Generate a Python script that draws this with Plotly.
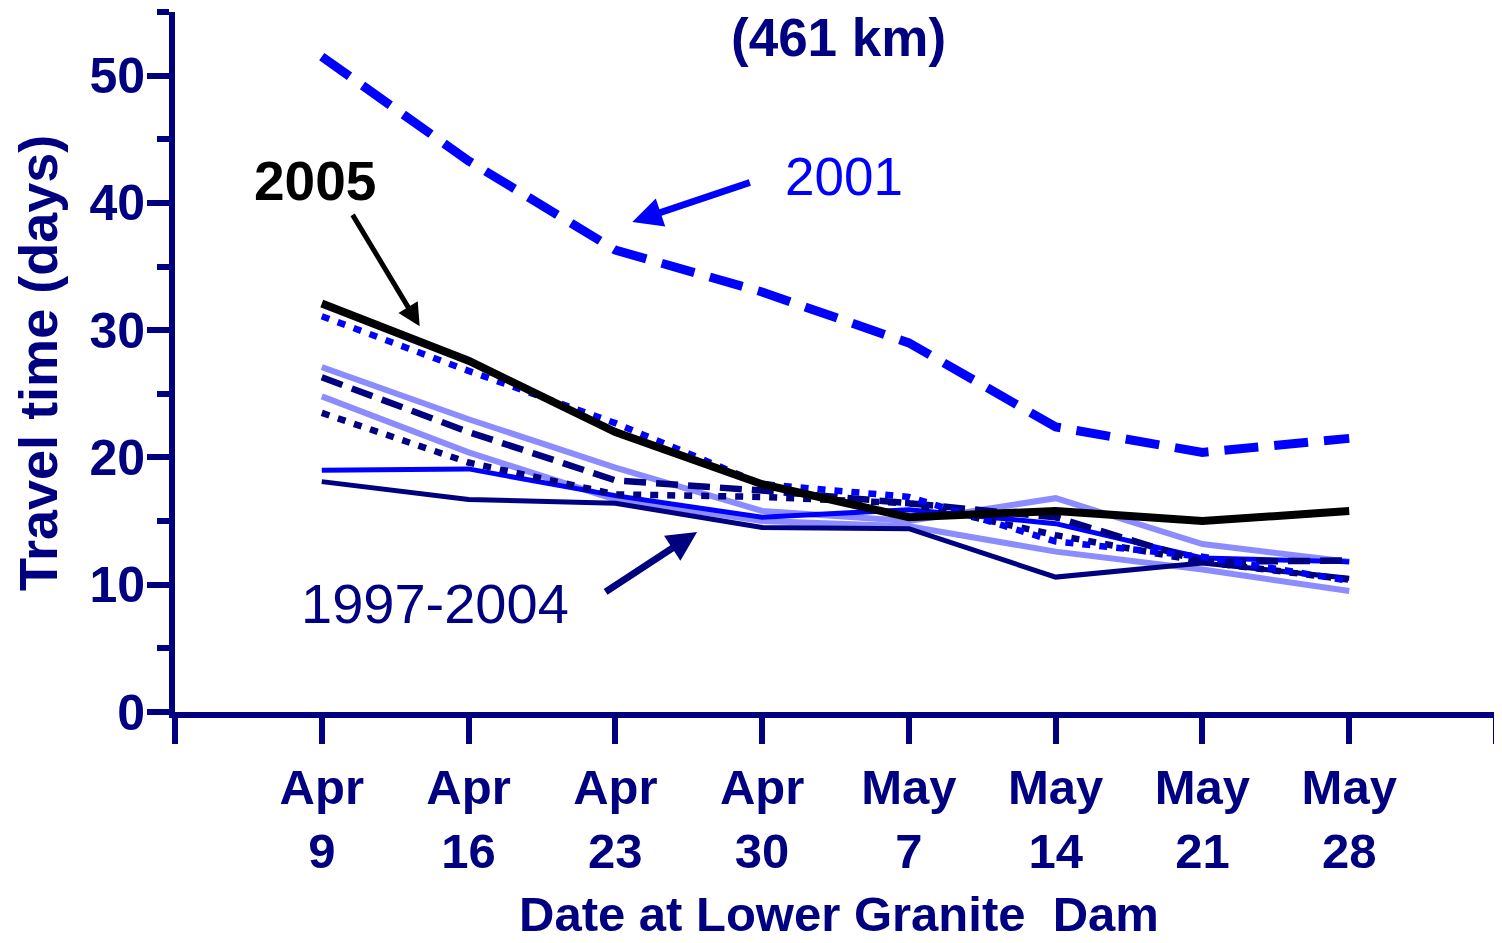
import plotly.graph_objects as go

NAVY = "#000080"
BLUE = "#0000FF"
LILAC = "#8c8cff"

days = [0, 7, 14, 21, 28, 35, 42, 49]
tick_vals = [-7, 0, 7, 14, 21, 28, 35, 42, 49, 56]
tick_text = ["", "Apr<br>9", "Apr<br>16", "Apr<br>23", "Apr<br>30",
             "May<br>7", "May<br>14", "May<br>21", "May<br>28", ""]

y2001 = [51.5, 43.3, 36.3, 33.0, 29.0, 22.4, 20.4, 21.5]
y2005 = [32.1, 27.6, 22.0, 17.9, 15.3, 15.8, 15.0, 15.8]
blue_dot = [31.1, 26.8, 22.7, 17.9, 16.9, 13.4, 12.2, 10.3]
navy_dash = [26.3, 22.0, 18.2, 17.4, 16.4, 15.3, 11.8, 11.9]
lilac_a = [27.1, 23.0, 19.2, 15.8, 15.0, 16.8, 13.2, 11.8]
lilac_b = [24.8, 20.4, 16.7, 15.0, 14.6, 12.6, 11.2, 9.5]
navy_dot = [23.5, 19.6, 17.1, 16.9, 16.4, 13.9, 11.8, 10.4]
blue_solid = [19.0, 19.1, 17.0, 15.3, 15.9, 14.8, 12.1, 11.8]
navy_solid = [18.1, 16.7, 16.4, 14.5, 14.4, 10.6, 11.7, 10.5]

fig = go.Figure()

def add(y, color, width, dash="solid", name=""):
    fig.add_trace(go.Scatter(x=days, y=y, mode="lines", name=name,
                             line=dict(color=color, width=width, dash=dash),
                             showlegend=False, hoverinfo="skip"))

add(lilac_a, LILAC, 6)
add(lilac_b, LILAC, 6)
add(navy_solid, NAVY, 5)
add(blue_solid, BLUE, 5)
add(navy_dot, NAVY, 6.5, "8px,9px")
add(navy_dash, NAVY, 6.5, "22px,10px")
add(blue_dot, BLUE, 6.5, "8px,9px")
add(y2001, BLUE, 9, "34px,16px")
add(y2005, "black", 8)

FONT = "Liberation Sans, Arial, sans-serif"

fig.update_layout(
    width=1494, height=935,
    margin=dict(l=167, r=6, t=4, b=231, autoexpand=False),
    paper_bgcolor="white", plot_bgcolor="white",
    font=dict(family=FONT, color=NAVY),
    xaxis=dict(range=[-7, 56], tickvals=tick_vals, ticktext=tick_text,
               showgrid=False, zeroline=False, showline=True, linecolor=NAVY,
               linewidth=6, ticks="outside", ticklen=26, tickwidth=6, tickcolor=NAVY,
               tickfont=dict(family=FONT, size=49, color=NAVY, weight="bold"),
               ticklabelstandoff=1),
    yaxis=dict(range=[0, 55], tickvals=[0, 10, 20, 30, 40, 50],
               showgrid=False, zeroline=False, showline=True, linecolor=NAVY,
               linewidth=6, ticks="outside", ticklen=22, tickwidth=6, tickcolor=NAVY,
               tickfont=dict(family=FONT, size=50, color=NAVY, weight="bold"),
               ticklabelstandoff=-8,
               minor=dict(tickvals=[5, 15, 25, 35, 45, 55], ticks="outside",
                          ticklen=12, tickwidth=6, tickcolor=NAVY)),
)

C = dict(xanchor="center", yanchor="middle", showarrow=False)
ann = []
# titles
ann.append(dict(text="<b>(461 km)</b>", xref="paper", yref="paper", x=0.502, y=0.963,
                font=dict(size=53, color=NAVY, family=FONT), **C))
ann.append(dict(text="<b>Travel time (days)</b>", xref="paper", yref="paper",
                x=-0.1037, y=0.4986, textangle=-90,
                font=dict(size=54, color=NAVY, family=FONT), **C))
ann.append(dict(text="<b>Date at Lower Granite  Dam</b>", xref="paper", yref="paper",
                x=0.503, y=-0.288,
                font=dict(size=49, color=NAVY, family=FONT), **C))
# labels
ann.append(dict(text="<b>2005</b>", x=-0.33, y=41.7,
                font=dict(size=55, color="black", family=FONT), **C))
ann.append(dict(text="2001", x=24.9, y=42.1,
                font=dict(size=53, color=BLUE, family=FONT), **C))
ann.append(dict(text="1997-2004", x=5.38, y=8.5,
                font=dict(size=56, color=NAVY, family=FONT), **C))
# arrows
ann.append(dict(text="", x=4.67, y=30.3, ax=-68, ay=-113, showarrow=True,
                arrowhead=2, arrowsize=0.9, arrowwidth=5, arrowcolor="black", standoff=0))
ann.append(dict(text="", x=14.81, y=38.5, ax=119, ay=-40, showarrow=True,
                arrowhead=2, arrowsize=0.85, arrowwidth=7, arrowcolor=BLUE, standoff=0))
ann.append(dict(text="", x=17.9, y=14.15, ax=-93, ay=61, showarrow=True,
                arrowhead=2, arrowsize=0.85, arrowwidth=7, arrowcolor=NAVY, standoff=0))
fig.update_layout(annotations=ann)

fig.write_html("out.html")
